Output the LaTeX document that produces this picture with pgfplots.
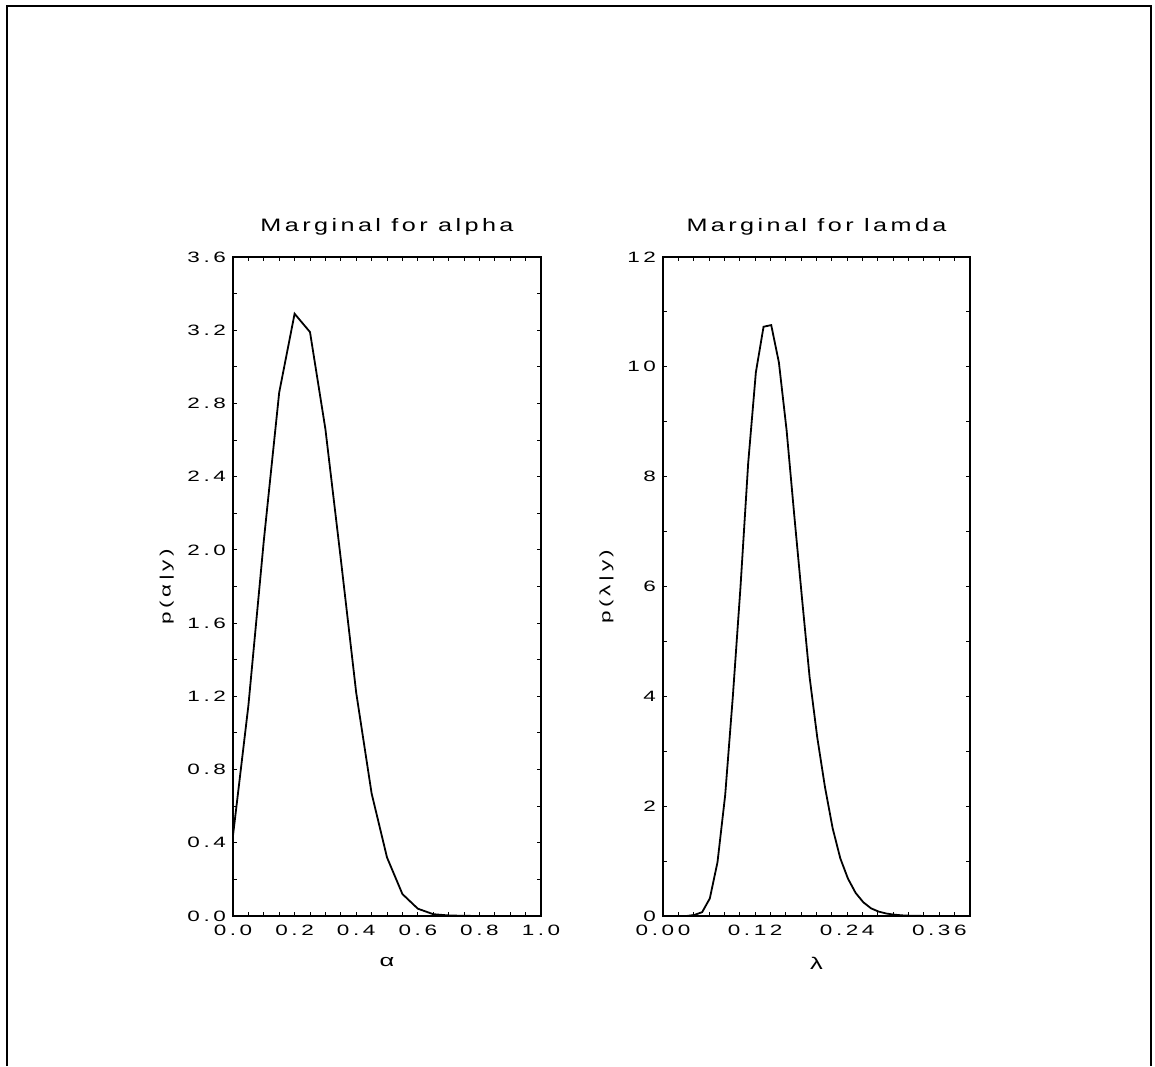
\documentclass[border=0pt]{standalone}
\usepackage{fontspec}
\setmainfont{Liberation Sans}
\newfontfamily\tickfont{Liberation Sans}[FakeStretch=1.5, LetterSpace=24]
\newfontfamily\titlefont{Liberation Sans}[FakeStretch=1.4, LetterSpace=19]
\usepackage{pgfplots}
\pgfplotsset{compat=1.18}

\pgfplotsset{
  marg/.style={
    scale only axis,
    width=154pt, height=329.5pt,
    anchor=south west,
    font=\tickfont\fontsize{7.5pt}{9pt}\selectfont,
    tick align=inside,
    xticklabel pos=lower, yticklabel pos=left,
    major tick length=2.2pt, minor tick length=2.2pt,
    axis line style={line width=1.4pt},
    tick style={line width=0.5pt, black},
    /pgf/number format/assume math mode=true,
    /pgf/number format/fixed,
    /pgf/number format/fixed zerofill,
    title style={font=\titlefont\fontsize{9pt}{11pt}\selectfont, yshift=1.5pt},
    xticklabel style={yshift=-1pt},
    xlabel style={yshift=-4pt, font=\tickfont\fontsize{8.5pt}{10pt}\selectfont},
  }
}

\begin{document}
\begin{tikzpicture}
\useasboundingbox (0,0) rectangle (577.5pt,533pt);
\draw[line width=1pt] (3.5pt,0) -- (3.5pt,530pt) -- (575.5pt,530pt) -- (575.5pt,0);

% alpha
\begin{axis}[marg,
    at={(116.5pt,75pt)},
    xmin=0, xmax=1, ymin=0, ymax=3.6,
    xtick={0,0.2,...,1.0},
    ytick={0,0.4,...,3.6},
    minor x tick num=3, minor y tick num=1,
    xticklabel style={/pgf/number format/precision=1},
    yticklabel style={/pgf/number format/precision=1},
    title={Marginal for alpha},
    xlabel={α}, ylabel={p(α|y)},
]
\addplot[black, line width=0.9pt] coordinates {
  (0.00,0.44) (0.05,1.15) (0.10,2.05) (0.15,2.86) (0.20,3.29)
  (0.25,3.19) (0.30,2.66) (0.35,1.95) (0.40,1.22) (0.45,0.67)
  (0.50,0.32) (0.55,0.12) (0.60,0.04) (0.65,0.01) (0.70,0.003)
  (0.75,0.001) (0.80,0) (0.85,0) (0.90,0) (0.95,0) (1.00,0)
};
\end{axis}

% lambda
\begin{axis}[marg,
    at={(331.5pt,75pt)}, width=153.5pt,
    xmin=0, xmax=0.4, ymin=0, ymax=12,
    xtick={0,0.12,0.24,0.36},
    minor xtick={0.02,0.04,...,0.40},
    ytick={0,2,...,12},
    minor y tick num=1,
    xticklabel style={/pgf/number format/precision=2},
    yticklabel style={/pgf/number format/precision=0, /pgf/number format/fixed zerofill=false},
    title={Marginal for lamda},
    xlabel={λ}, ylabel={p(λ|y)},
]
\addplot[black, line width=0.9pt] coordinates {
  (0.001,0) (0.011,0) (0.021,0) (0.031,0) (0.041,0.02)
  (0.051,0.07) (0.061,0.32) (0.071,0.98) (0.081,2.2) (0.091,4.0)
  (0.101,6.0) (0.111,8.25) (0.121,9.9) (0.131,10.73) (0.141,10.76)
  (0.151,10.08) (0.161,8.85) (0.171,7.3) (0.181,5.8) (0.191,4.35)
  (0.201,3.25) (0.211,2.35) (0.221,1.6) (0.231,1.05) (0.241,0.68)
  (0.251,0.42) (0.261,0.25) (0.271,0.14) (0.281,0.08) (0.291,0.045)
  (0.301,0.025) (0.311,0.012) (0.321,0.006) (0.331,0.003) (0.341,0.001)
  (0.351,0) (0.361,0) (0.371,0) (0.381,0) (0.391,0)
};
\end{axis}
\end{tikzpicture}
\end{document}
